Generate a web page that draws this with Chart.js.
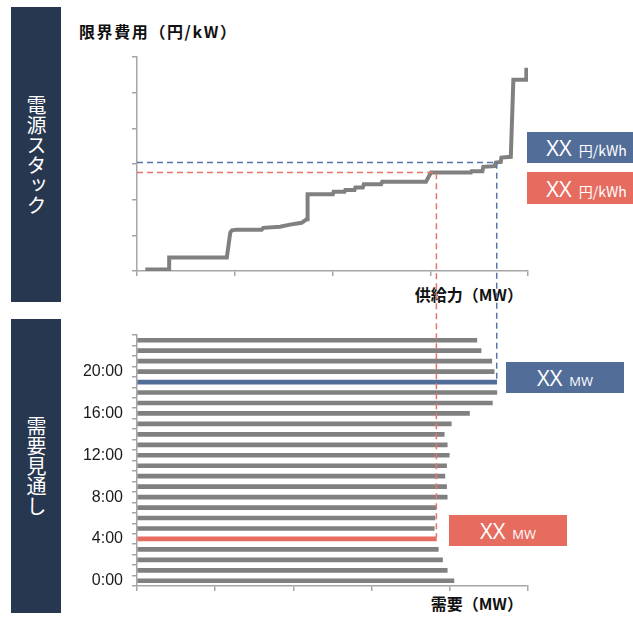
<!DOCTYPE html>
<html lang="ja">
<head>
<meta charset="utf-8">
<script src="https://cdn.jsdelivr.net/npm/chart.js@4/dist/chart.umd.min.js"></script>
<style>
  html, body { margin: 0; padding: 0; }
  body { width: 633px; height: 617px; position: relative; overflow: hidden; background: #fff;
         font-family: "Noto Sans CJK JP", "Noto Sans", sans-serif; }
  .panel { position: absolute; left: 11px; width: 50px; background: #283750; color: #fff;
           display: flex; align-items: center; justify-content: center; }
  .panel span { writing-mode: vertical-rl; font-size: 20px; line-height: 1; letter-spacing: 0; }
  .axis-title { position: absolute; font-weight: 700; font-size: 16px; line-height: 20px; color: #111; white-space: nowrap; }
  .tag { position: absolute; height: 31px; color: #fff; display: flex; align-items: center; justify-content: center;
         white-space: nowrap; }
  .tag .txt { display: inline-block; line-height: 26px; padding-top: 2px; }
  .tag .big { font-family: "Open Sans", "Noto Sans", sans-serif; font-size: 22px; margin-right: 7px; }
  .tag .unit { font-family: "Noto Sans CJK JP", sans-serif; font-size: 14px; }
  .tag .mw { font-family: "Open Sans", "Noto Sans", sans-serif; font-size: 13px; }
  .blue { background: #536d99; }
  .red { background: #e66c60; }
  canvas { position: absolute; left: 0; top: 0; }
</style>
</head>
<body>
<div class="panel" style="top:7px;height:295px"><span>電源スタック</span></div>
<div class="panel" style="top:319px;height:294px"><span>需要見通し</span></div>

<div class="axis-title" style="left:79px;top:21px;letter-spacing:1.6px">限界費用（円/kW）</div>
<div class="axis-title" style="right:110px;top:284px">供給力（MW）</div>
<div class="axis-title" style="right:110px;top:593px">需要（MW）</div>

<div class="tag blue" style="left:527px;top:132px;width:119px"><span class="txt"><span class="big">XX</span><span class="unit">円/kWh</span></span></div>
<div class="tag red" style="left:527px;top:172px;width:119px;height:32px"><span class="txt"><span class="big">XX</span><span class="unit">円/kWh</span></span></div>
<div class="tag blue" style="left:506px;top:362px;width:118px"><span class="txt"><span class="big">XX</span><span class="mw">MW</span></span></div>
<div class="tag red" style="left:449px;top:515px;width:118px"><span class="txt"><span class="big">XX</span><span class="mw">MW</span></span></div>

<canvas id="supply" width="633" height="617"></canvas>
<canvas id="demand" width="633" height="617"></canvas>

<script>
// Merit-order supply curve: cumulative capacity (MW) and marginal cost at each vertex
const supplyMW   = [74, 288, 288, 804, 835, 850, 893, 1116, 1131, 1280, 1369, 1473, 1518, 1527, 1527,
                    1753, 1760, 1857, 1865, 1947, 1955, 2021, 2030, 2185, 2195, 2587, 2631, 2989, 2995,
                    3092, 3100, 3200, 3212, 3256, 3262, 3346, 3369, 3485, 3485];
const supplyCost = [0.2, 0.2, 1.9, 1.9, 5.4, 5.7, 5.8, 5.8, 6.05, 6.2, 6.5, 6.75, 7.25, 7.25, 10.75,
                    10.75, 11.1, 11.1, 11.35, 11.35, 11.7, 11.7, 12.15, 12.15, 12.5, 12.5, 13.8, 13.8, 14.0,
                    14.0, 14.6, 14.7, 15.2, 15.3, 15.9, 16.0, 26.8, 26.8, 28.5];

// Hourly demand forecast (MW)
const hours = ['0:00', '1:00', '2:00', '3:00', '4:00', '5:00', '6:00', '7:00', '8:00', '9:00', '10:00', '11:00',
               '12:00', '13:00', '14:00', '15:00', '16:00', '17:00', '18:00', '19:00', '20:00', '21:00', '22:00', '23:00'];
const demandMW = [2837, 2777, 2735, 2697, 2680, 2661, 2667, 2676, 2777, 2771, 2756, 2771,
                  2795, 2777, 2750, 2813, 2976, 3181, 3221, 3220, 3197, 3176, 3080, 3042];

// Highlighted hours (off-peak, peak) and the marginal cost where each meets the supply curve
const markerHours  = [4, 19];
const markerPrices = [13.8, 15.2];

const GRAY = '#808080';
const AXIS = '#a6a6a6';
const BLUE = '#536d99';
const RED = '#e66c60';
const DASH_BLUE = '#5875a8';
const DASH_RED = '#e8746a';
const markerColors = [RED, BLUE];
const dashColors = [DASH_RED, DASH_BLUE];

const MW_MAX = 3500;
const COST_MAX = 30;

const axisBorder = { display: true, color: AXIS, width: 1.5 };
const tickGrid = { drawOnChartArea: false, drawTicks: true, tickLength: 5, color: AXIS, lineWidth: 1.5 };

const supplyChart = new Chart(document.getElementById('supply'), {
  type: 'line',
  data: {
    datasets: [{
      data: supplyMW.map((x, i) => ({ x, y: supplyCost[i] })),
      borderColor: GRAY,
      borderWidth: 4,
      pointRadius: 0,
      tension: 0,
      fill: false
    }]
  },
  options: {
    responsive: false,
    animation: false,
    devicePixelRatio: 1,
    layout: { padding: { left: 0, top: 57, right: 105, bottom: 326 } },
    plugins: { legend: { display: false }, tooltip: { enabled: false } },
    scales: {
      x: {
        type: 'linear', min: 0, max: MW_MAX,
        ticks: { display: false, stepSize: 1000, includeBounds: false },
        grid: tickGrid, border: axisBorder,
        afterFit: s => { s.height = 20; }
      },
      y: {
        type: 'linear', min: 0, max: COST_MAX,
        ticks: { display: false, stepSize: 5 },
        grid: tickGrid, border: axisBorder,
        afterFit: s => { s.width = 137; }
      }
    }
  }
});

// Dashed guides: from the cost axis across to the supply curve, then down to the matching demand bar
const guides = {
  id: 'guides',
  afterDraw(chart) {
    const ctx = chart.ctx;
    const sx = supplyChart.scales.x, sy = supplyChart.scales.y;
    const dy = chart.scales.y;
    markerHours.forEach((h, k) => {
      const px = sx.getPixelForValue(demandMW[h]);
      const py = sy.getPixelForValue(markerPrices[k]);
      const barTop = dy.getPixelForValue(h) - 2;
      ctx.save();
      ctx.strokeStyle = dashColors[k];
      ctx.lineWidth = 1.5;
      ctx.setLineDash([6, 4]);
      ctx.beginPath();
      ctx.moveTo(sx.left, py);
      ctx.lineTo(px, py);
      ctx.lineTo(px, barTop);
      ctx.stroke();
      ctx.restore();
    });
  }
};

new Chart(document.getElementById('demand'), {
  type: 'bar',
  data: {
    labels: hours,
    datasets: [{
      data: demandMW,
      backgroundColor: c => {
        const k = markerHours.indexOf(c.dataIndex);
        return k >= 0 ? markerColors[k] : GRAY;
      },
      barThickness: 4
    }]
  },
  options: {
    indexAxis: 'y',
    responsive: false,
    animation: false,
    devicePixelRatio: 1,
    layout: { padding: { left: 0, top: 335, right: 105, bottom: 11 } },
    plugins: { legend: { display: false }, tooltip: { enabled: false } },
    scales: {
      x: {
        type: 'linear', min: 0, max: MW_MAX,
        ticks: { display: false, stepSize: 700 },
        grid: tickGrid, border: axisBorder,
        afterFit: s => { s.height = 20; }
      },
      y: {
        type: 'category',
        reverse: true,
        offset: true,
        grid: Object.assign({}, tickGrid, { offset: true }),
        border: axisBorder,
        ticks: {
          autoSkip: false,
          padding: 9,
          color: '#1a1a1a',
          font: { family: 'Liberation Sans', size: 16 },
          callback: function (value) { return value % 4 === 0 ? this.getLabelForValue(value) : ''; }
        },
        afterFit: s => { s.width = 137; }
      }
    }
  },
  plugins: [guides]
});
</script>
</body>
</html>
